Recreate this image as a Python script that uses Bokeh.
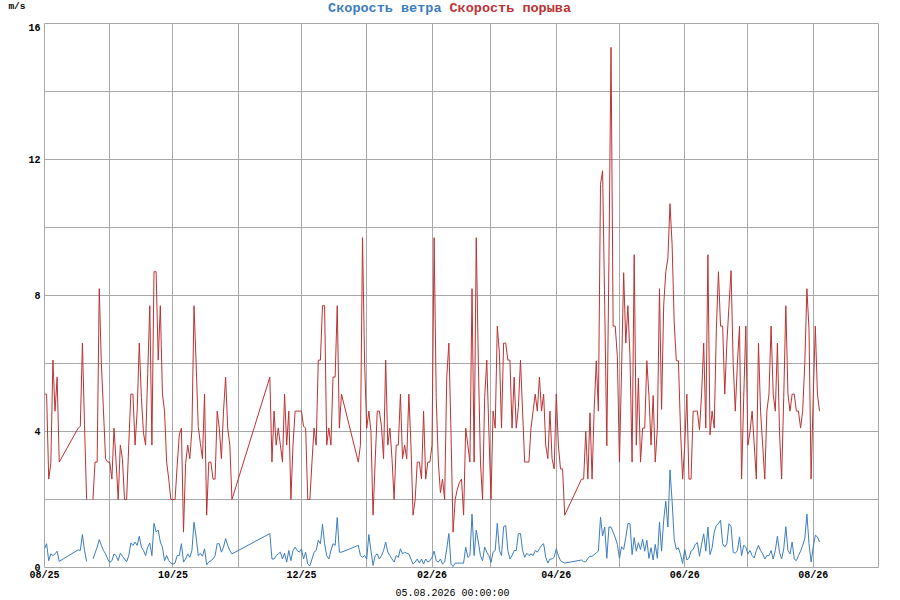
import numpy as np
import pandas as pd
from bokeh.plotting import figure
from bokeh.layouts import column
from bokeh.models import FixedTicker, Range1d, ColumnDataSource
from bokeh.core.properties import value
from bokeh.embed import file_html
from bokeh.resources import INLINE

nan = np.nan
start_date = "2025-08-01"
end_date = "2026-09-01"

# day offsets from start_date
days = [0, 1, 2, 3, 4, 5, 6, 7, 16, 17, 18, 19, 20, 21,
        23, 24, 25, 26, 27, 28, 29, 30, 31, 32, 33, 34, 35, 36, 37, 38, 39, 40,
        41, 42, 43, 44, 45, 46, 47, 48, 49, 50, 51, 52, 53, 54, 55, 56, 57, 58, 59, 60,
        61, 62, 63, 64, 65, 66, 67, 68, 69, 70, 71, 72, 73, 74, 75, 76, 77, 78, 79, 80,
        81, 82, 83, 84, 85, 86, 87, 88, 89,
        107, 108, 109, 110, 111, 112, 113, 114, 115, 116, 117, 118, 119, 120,
        121, 122, 123, 124, 125, 126, 127, 128, 129, 130, 131, 132, 133, 134, 135, 136,
        137, 138, 139, 140, 141,
        149, 150, 151, 152, 153, 154, 155, 156, 157, 158, 159, 160, 161, 162, 163, 164,
        165, 166, 167, 168, 169, 170, 171, 172, 173, 174, 175, 176, 177, 178, 179, 180,
        181, 182, 183, 184, 185, 186, 187, 188, 189, 190, 191, 192, 193, 194, 195, 196,
        197, 198, 199, 200, 201, 202, 203, 204, 205, 206, 207, 208, 209, 210, 211, 212,
        213, 214, 215, 216, 217, 218, 219, 220, 221, 222, 223, 224, 225, 226, 227, 228,
        229, 230, 231, 232, 233, 234, 235, 236, 237, 238, 239, 240, 241, 242, 243, 244,
        245, 246, 247,
        255, 256, 257, 258, 259, 260, 261, 262, 263, 264, 265, 266, 267, 268, 269, 270,
        271, 272, 273, 274, 275, 276, 277, 278, 279, 280, 281, 282, 283, 284, 285, 286,
        287, 288, 289, 290, 291, 292, 293, 294, 295, 296, 297, 298, 299, 300, 301, 302,
        303, 304, 305, 306, 307, 308, 309, 310, 311, 312, 313, 314, 315, 316, 317, 318,
        319, 320, 321, 322, 323, 324, 325, 326, 327, 328, 329, 330, 331, 332, 333, 334,
        335, 336, 337, 338, 339, 340, 341, 342, 343, 344, 345, 346, 347, 348, 349, 350,
        351, 352, 353, 354, 355, 356, 357, 358, 359, 360, 361, 362, 363, 364, 365, 366,
        367, 368]

# gust speed (m/s)
gust = [5.1, 5.1, 2.6, 3.05, 6.1, 4.6, 5.6, 3.1, 4.1, 4.15, 6.6, 4.2, 2.0, nan,
        2.0, 3.1, 3.1, 8.2, 6.0, 4.6, 3.2, 3.1, 3.1, 2.6, 4.1, 3.1, 2.0, 3.6, 3.2, 2.0, 2.0, 3.6,
        5.1, 5.1, 3.6, 4.6, 6.6, 5.0, 3.95, 3.6, 5.7, 7.7, 3.6, 8.7, 8.7, 6.1, 7.7, 5.1, 4.6, 3.1, 2.6, 2.0,
        2.0, 2.0, 3.0, 3.9, 4.1, 1.04, 3.06, 3.6, 3.2, 4.05, 7.7, 6.0, 4.15, 3.65, 3.2, 5.1, 1.54, 3.1, 3.1, 2.6,
        2.6, 4.6, 4.1, 3.2, 4.6, 5.6, 4.1, 3.6, 2.0,
        5.6, 3.1, 4.6, 3.6, 4.1, 3.6, 3.1, 5.1, 3.6, 4.6, 2.0, 3.6, 4.6, 4.6,
        4.6, 4.6, 4.15, 4.1, 2.0, 2.0, 3.1, 4.1, 3.6, 6.1, 6.1, 7.7, 7.7, 3.6, 4.1, 3.6,
        5.6, 5.6, 7.7, 4.1, 5.1,
        3.1, 3.6, 9.7, 6.0, 4.1, 4.6, 4.0, 1.54, 3.1, 4.6, 4.6, 4.15, 3.2, 6.1, 3.6, 4.1,
        3.2, 2.0, 3.6, 3.6, 5.1, 3.2, 3.6, 3.2, 5.1, 3.6, 1.54, 2.0, 3.1, 3.1, 2.6, 4.6,
        2.6, 3.1, 3.1, 3.6, 9.7, 5.0, 3.1, 2.2, 2.6, 2.0, 5.6, 6.6, 4.0, 1.04, 2.0, 2.3,
        2.5, 2.6, 1.54, 4.1, 3.6, 3.1, 8.2, 3.1, 9.7, 6.0, 3.1, 2.0, 5.0, 6.1, 4.0, 2.0,
        4.6, 4.1, 7.1, 6.3, 4.1, 6.6, 6.6, 6.1, 6.1, 4.1, 5.6, 4.1, 4.7, 6.1, 4.6, 3.1,
        3.1, 3.1, 4.1, 4.6, 5.1, 4.6, 5.6, 4.6, 5.1, 3.6, 3.2, 4.6, 3.2, 2.9, 5.1, 3.6,
        2.9, 2.9, 1.54,
        2.6, 2.6, 4.0, 2.6, 4.55, 2.6, 4.65, 6.08, 4.6, 11.27, 11.67, 7.7, 3.58, 9.0, 15.3, 7.1,
        7.1, 6.2, 3.1, 5.8, 8.67, 6.6, 7.7, 6.2, 3.1, 9.2, 3.6, 5.57, 3.1, 4.1, 4.1, 6.08,
        5.06, 3.6, 5.06, 3.1, 4.1, 8.2, 4.65, 7.7, 8.7, 9.1, 10.7, 9.5, 7.2, 6.08, 6.08, 4.04,
        2.6, 3.6, 5.1, 2.6, 2.6, 4.6, 4.6, 4.6, 4.04, 5.1, 6.6, 4.1, 9.2, 3.9, 4.6, 4.1,
        7.0, 8.7, 7.1, 7.1, 5.1, 6.6, 7.7, 8.73, 6.0, 4.6, 6.0, 7.1, 2.6, 5.0, 7.1, 3.6,
        4.0, 4.6, 3.6, 2.6, 6.6, 4.6, 3.6, 2.6, 4.6, 5.1, 7.1, 5.1, 4.6, 6.6, 4.0, 2.6,
        5.0, 7.7, 5.1, 4.6, 5.1, 5.1, 4.6, 4.6, 4.1, 4.6, 6.0, 8.2, 7.0, 2.6, 5.0, 7.1,
        5.1, 4.6]

# wind speed (m/s)
wind = [0.55, 0.7, 0.2, 0.4, 0.35, 0.4, 0.48, 0.18, 0.52, 0.5, 0.97, 0.5, 0.18, nan,
        0.25, 0.42, 0.6, 0.82, 0.65, 0.5, 0.4, 0.25, 0.15, 0.2, 0.4, 0.35, 0.2, 0.42, 0.33, 0.25, 0.17, 0.35,
        0.72, 0.65, 0.75, 0.65, 0.92, 0.6, 0.5, 0.35, 0.6, 0.72, 0.35, 1.3, 1.05, 1.1, 0.75, 0.6, 0.2, 0.35, 0.2, 0.13,
        0.1, 0.13, 0.35, 0.35, 0.7, 0.16, 0.25, 0.4, 0.3, 0.5, 1.33, 0.9, 0.35, 0.42, 0.33, 0.55, 0.08, 0.16, 0.2, 0.25,
        0.35, 0.7, 0.7, 0.45, 0.6, 0.85, 0.65, 0.5, 0.4,
        1.0, 0.25, 0.25, 0.35, 0.4, 0.45, 0.25, 0.42, 0.16, 0.5, 0.2, 0.5, 0.6, 0.5,
        0.45, 0.55, 0.25, 0.45, 0.1, 0.05, 0.25, 0.45, 0.5, 0.8, 0.7, 1.27, 0.7, 0.35, 0.25, 0.5,
        0.7, 0.65, 1.47, 0.45, 0.45,
        0.65, 0.35, 0.3, 0.35, 0.25, 0.97, 0.5, 0.06, 0.35, 0.4, 0.25, 0.35, 0.5, 0.75, 0.45, 0.35,
        0.25, 0.16, 0.35, 0.3, 0.55, 0.4, 0.45, 0.42, 0.4, 0.25, 0.1, 0.16, 0.25, 0.13, 0.25, 0.1,
        0.25, 0.16, 0.2, 0.3, 0.48, 0.2, 0.16, 0.25, 0.1, 0.16, 0.55, 1.0, 0.1, 0.03, 0.13, 0.13,
        0.13, 0.13, 0.13, 0.6, 0.3, 0.35, 1.57, 0.35, 1.1, 0.75, 0.35, 0.2, 0.6, 0.45, 0.35, 0.15,
        0.45, 0.5, 1.3, 0.5, 0.35, 1.2, 1.24, 0.5, 0.25, 0.35, 0.5, 0.5, 0.99, 1.0, 0.5, 0.3,
        0.42, 0.35, 0.4, 0.35, 0.5, 0.45, 0.55, 0.65, 0.7, 0.3, 0.13, 0.25, 0.25, 0.3, 0.55, 0.35,
        0.2, 0.16, 0.13,
        0.22, 0.17, 0.17, 0.27, 0.33, 0.33, 0.38, 0.43, 0.48, 1.48, 0.93, 1.19, 0.27, 1.19, 1.19, 1.04,
        0.88, 0.68, 0.27, 0.61, 0.53, 0.88, 1.29, 1.29, 0.38, 0.88, 0.48, 0.73, 0.53, 0.83, 0.48, 0.8,
        0.27, 0.58, 0.22, 0.68, 0.27, 1.34, 0.48, 1.39, 1.95, 1.19, 2.87, 1.95, 0.83, 0.53, 0.58, 0.38,
        0.12, 0.53, 0.22, 0.27, 0.48, 0.53, 0.68, 0.73, 0.33, 0.68, 0.99, 0.48, 1.19, 0.38, 0.58, 1.04,
        1.24, 1.29, 1.39, 0.7, 0.6, 0.7, 1.29, 1.2, 0.45, 0.42, 0.5, 0.9, 0.35, 0.65, 0.6, 0.4,
        0.5, 0.35, 0.28, 0.5, 0.65, 0.5, 0.4, 0.25, 0.35, 0.35, 0.5, 0.25, 0.5, 0.92, 0.45, 0.25,
        0.55, 1.2, 0.5, 0.4, 0.75, 0.25, 0.2, 0.35, 0.48, 0.65, 0.85, 1.57, 0.7, 0.16, 0.6, 0.95,
        0.9, 0.75]

tick_labels = ["08/25", "10/25", "12/25", "02/26", "04/26", "06/26", "08/26"]
y_major = [0, 4, 8, 12, 16]
y_minor = [2, 6, 10, 14]
title_wind = "Скорость ветра"
title_gust = "Скорость порыва"
unit_label = "m/s"
time_label = "05.08.2026 00:00:00"

BLUE = "#3b7dbd"
RED = "#bb3333"
GRID = "#a8a8a8"
FONT = "Liberation Mono"
W = 898
FRAME_L, FRAME_R = 44, 878   # frame edges in page pixels


def text_strip(height, with_left_axis=False):
    # strip whose frame is aligned with the main frame; x data == page pixels
    f = figure(width=W, height=height, output_backend="svg", toolbar_location=None,
               x_range=Range1d(FRAME_L, FRAME_R), y_range=Range1d(0, height),
               x_axis_location=None,
               y_axis_location="left" if with_left_axis else None,
               min_border_left=FRAME_L, min_border_right=W - FRAME_R,
               min_border_top=0, min_border_bottom=0, outline_line_color=None)
    f.grid.visible = False
    return f


# --- header strip: unit label and two-coloured title ---
top = text_strip(23, with_left_axis=True)
top.text(x=[441], y=[15], text=[title_wind], text_align="right", text_baseline="middle",
         text_font=value(FONT), text_font_style="bold", text_font_size="13.5px",
         text_color=BLUE)
top.text(x=[449], y=[15], text=[title_gust], text_align="left", text_baseline="middle",
         text_font=value(FONT), text_font_style="bold", text_font_size="13.5px",
         text_color=RED)
ya = top.yaxis[0]
ya.ticker = FixedTicker(ticks=[18])
ya.major_label_overrides = {18: unit_label}
ya.axis_line_color = None
ya.major_tick_line_color = None
ya.minor_tick_line_color = None
ya.major_tick_out = 0
ya.major_tick_in = 0
ya.major_label_standoff = 19
ya.major_label_text_font = FONT
ya.major_label_text_font_style = "bold"
ya.major_label_text_font_size = "9.5px"
ya.major_label_text_color = "#000000"

# --- main chart ---
start = pd.Timestamp(start_date)
end = pd.Timestamp(end_date)
x = [start + pd.Timedelta(days=d) for d in days]
src = ColumnDataSource(dict(x=x, gust=gust, wind=wind))


def ms(ts):
    return (ts - pd.Timestamp("1970-01-01")) / pd.Timedelta(milliseconds=1)


months = pd.date_range(start, end, freq="MS")
major_ms = [ms(t) for t in months[0::2]][:len(tick_labels)]
minor_ms = [ms(t) for t in months[1::2]]

p = figure(width=W, height=560, x_axis_type="datetime",
           output_backend="svg", toolbar_location=None,
           x_range=Range1d(ms(start), ms(end)), y_range=Range1d(0, 16),
           min_border_left=FRAME_L, min_border_right=W - FRAME_R, min_border_top=0,
           min_border_bottom=16)
p.background_fill_color = "white"
p.border_fill_color = "white"
p.outline_line_color = GRID
p.outline_line_width = 1

p.line("x", "gust", source=src, color=RED, line_width=1)
p.line("x", "wind", source=src, color=BLUE, line_width=1)

p.xaxis.ticker = FixedTicker(ticks=major_ms, minor_ticks=minor_ms)
p.xaxis.major_label_overrides = {t: l for t, l in zip(major_ms, tick_labels)}
p.yaxis.ticker = FixedTicker(ticks=y_major, minor_ticks=y_minor)

for ax in (p.xaxis[0], p.yaxis[0]):
    ax.axis_line_color = None
    ax.major_tick_line_color = None
    ax.minor_tick_line_color = None
    ax.major_tick_out = 0
    ax.major_tick_in = 0
    ax.minor_tick_out = 0
    ax.major_label_text_font = FONT
    ax.major_label_text_font_style = "bold"
    ax.major_label_text_font_size = "10px"
    ax.major_label_text_color = "#000000"
p.xaxis.major_label_standoff = 2
p.yaxis.major_label_standoff = 4

for g in (p.xgrid[0], p.ygrid[0]):
    g.grid_line_color = GRID
    g.grid_line_width = 1
    g.minor_grid_line_color = GRID
    g.minor_grid_line_width = 1

# --- footer strip: timestamp ---
bottom = text_strip(17)
bottom.text(x=[452], y=[7], text=[time_label], text_align="center", text_baseline="middle",
            text_font=value(FONT), text_font_style="normal", text_font_size="10px",
            text_color="#000000")

layout = column(top, p, bottom, spacing=0)
open("out.html", "w").write(file_html(layout, INLINE))
